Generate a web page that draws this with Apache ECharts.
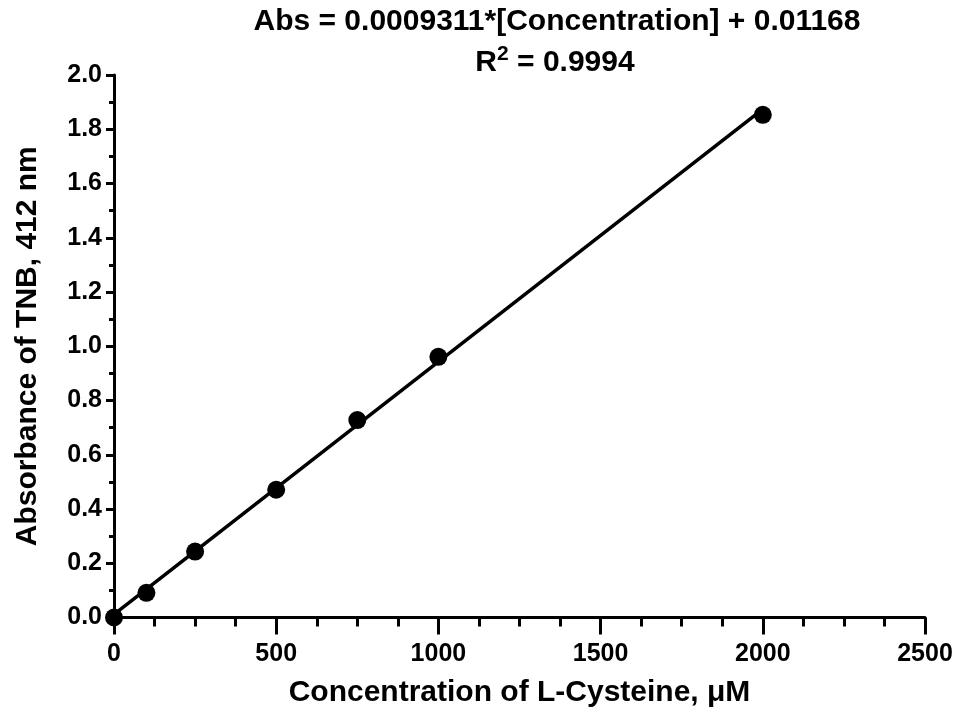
<!DOCTYPE html>
<html>
<head>
<meta charset="utf-8">
<script src="https://cdn.jsdelivr.net/npm/echarts@6/dist/echarts.min.js"></script>
<style>
  html, body { margin: 0; padding: 0; background: #ffffff; }
  #chart { width: 960px; height: 715px; }
</style>
</head>
<body>
<div id="chart"></div>
<script>
// L-Cysteine standard curve (Ellman's assay, TNB absorbance at 412 nm)
const concentrations = [0, 100, 250, 500, 750, 1000, 2000];
const absorbances = [0.0, 0.091, 0.243, 0.471, 0.728, 0.961, 1.853];

// Linear regression reported above the plot
const fitSlope = 0.0009311;
const fitIntercept = 0.01168;
const fitRSquared = '0.9994';
const fitRange = [0, 2000];

const xTicks = { min: 0, max: 2500, step: 500 };
const yTicks = { min: 0, max: 2.0, step: 0.2 };

const FONT = '"Liberation Sans", Arial, Helvetica, sans-serif';

const points = concentrations.map((c, i) => [c, absorbances[i]]);
const fitLine = fitRange.map(x => [x, fitSlope * x + fitIntercept]);

const chart = echarts.init(document.getElementById('chart'), null, { renderer: 'canvas' });

chart.setOption({
  backgroundColor: '#ffffff',
  animation: false,
  textStyle: { fontFamily: FONT },
  grid: { left: 114, right: 35, top: 75, bottom: 97.5, containLabel: false },
  graphic: [
    {
      type: 'text',
      x: 557, y: 22,
      style: {
        text: 'Abs = ' + fitSlope.toFixed(7) + '*[Concentration] + ' + fitIntercept,
        font: 'bold 30px ' + FONT,
        fill: '#000',
        align: 'center',
        verticalAlign: 'middle'
      }
    },
    {
      type: 'text',
      x: 555, y: 61,
      style: {
        text: '{r|R}{sup|2}{r| = ' + fitRSquared + '}',
        align: 'center',
        verticalAlign: 'middle',
        rich: {
          r: { font: 'bold 30px ' + FONT, fill: '#000', lineHeight: 34, verticalAlign: 'bottom' },
          sup: { font: 'bold 21px ' + FONT, fill: '#000', lineHeight: 21, verticalAlign: 'top' }
        }
      }
    }
  ],
  xAxis: {
    type: 'value',
    min: xTicks.min, max: xTicks.max, interval: xTicks.step,
    name: 'Concentration of L-Cysteine, μM',
    nameLocation: 'middle',
    nameGap: 60,
    nameTextStyle: { fontSize: 30, fontWeight: 'bold', color: '#000', fontFamily: FONT },
    axisLine: { show: true, onZero: false, lineStyle: { color: '#000', width: 3 } },
    axisTick: { show: true, length: 17, lineStyle: { color: '#000', width: 3 } },
    minorTick: { show: true, splitNumber: 4, length: 9, lineStyle: { color: '#000', width: 3 } },
    axisLabel: {
      fontSize: 25, fontWeight: 'bold', color: '#000', margin: 24, fontFamily: FONT,
      formatter: v => String(v)
    },
    splitLine: { show: false },
    minorSplitLine: { show: false }
  },
  yAxis: {
    type: 'value',
    min: yTicks.min, max: yTicks.max, interval: yTicks.step,
    name: 'Absorbance of TNB, 412 nm',
    nameLocation: 'middle',
    nameGap: 71,
    nameTextStyle: { fontSize: 30, fontWeight: 'bold', color: '#000', fontFamily: FONT },
    axisLine: { show: true, onZero: false, lineStyle: { color: '#000', width: 3 } },
    axisTick: { show: true, length: 8, lineStyle: { color: '#000', width: 3 } },
    minorTick: { show: true, splitNumber: 2, length: 5, lineStyle: { color: '#000', width: 3 } },
    axisLabel: {
      fontSize: 25, fontWeight: 'bold', color: '#000', margin: 12, fontFamily: FONT,
      formatter: v => v.toFixed(1)
    },
    splitLine: { show: false },
    minorSplitLine: { show: false }
  },
  series: [
    {
      name: 'Linear fit',
      type: 'line',
      data: fitLine,
      showSymbol: false,
      symbol: 'none',
      clip: false,
      lineStyle: { color: '#000', width: 3.5 },
      z: 2
    },
    {
      name: 'L-Cysteine',
      type: 'scatter',
      data: points,
      symbol: 'circle',
      symbolSize: 18,
      clip: false,
      itemStyle: { color: '#000', opacity: 1 },
      emphasis: { disabled: true },
      z: 3
    }
  ]
});
</script>
</body>
</html>
